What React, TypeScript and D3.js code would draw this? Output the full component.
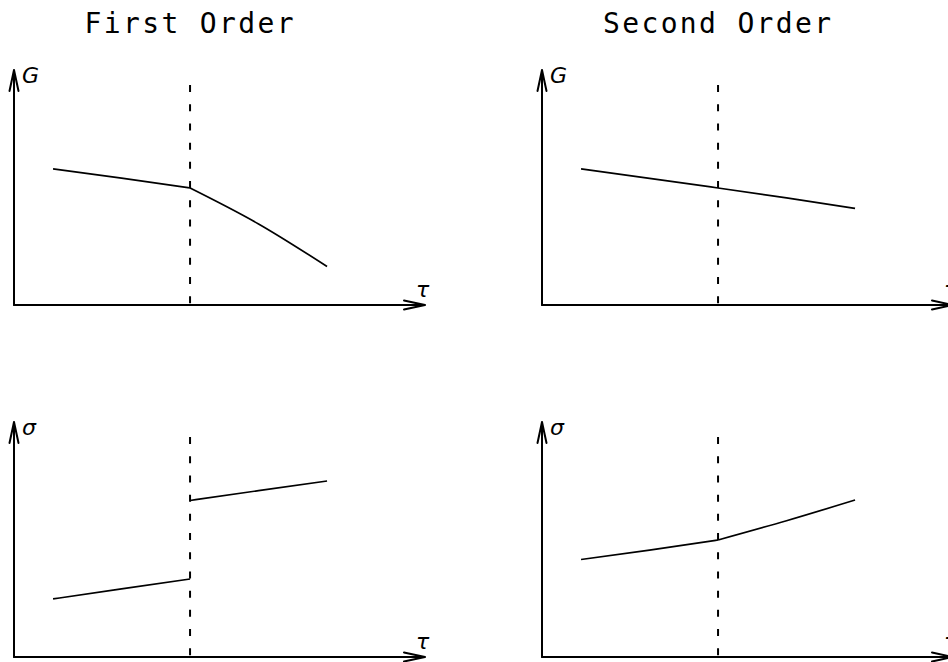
import * as d3 from 'd3';

// reduced temperature, 0 = transition point
const tauLeft = [-1, -0.5, 0];
const tauRight = [0, 0.5, 1];

// Gibbs energy G(tau)
const gFirstLeft = [0.579, 0.540, 0.498];
const gFirstRight = [0.498, 0.345, 0.164];
const gSecondLeft = [0.579, 0.539, 0.498];
const gSecondRight = [0.498, 0.456, 0.411];

// entropy sigma(tau)
const sFirstLeft = [0.247, 0.290, 0.332];
const sFirstRight = [0.666, 0.708, 0.749];
const sSecondLeft = [0.415, 0.455, 0.498];
const sSecondRight = [0.498, 0.580, 0.668];

const titles = ['First Order', 'Second Order'];
const yLabels = ['G', 'σ'];
const xLabel = 'τ';

const tauDomain = [-1.285, 1.715];
const dashTop = 0.936;

const W = 948;
const H = 662;
const axisW = 411;
const axisH = 235;
const originsX = [14, 542];
const originsY = [305, 657];

const panels = [
  { col: 0, row: 0, segs: [[tauLeft, gFirstLeft], [tauRight, gFirstRight]] },
  { col: 1, row: 0, segs: [[tauLeft, gSecondLeft], [tauRight, gSecondRight]] },
  { col: 0, row: 1, segs: [[tauLeft, sFirstLeft], [tauRight, sFirstRight]] },
  { col: 1, row: 1, segs: [[tauLeft, sSecondLeft], [tauRight, sSecondRight]] },
];

const Panel = ({ col, row, segs }) => {
  const ox = originsX[col];
  const oy = originsY[row];
  const x = d3.scaleLinear().domain(tauDomain).range([ox, ox + axisW]);
  const y = d3.scaleLinear().domain([0, 1]).range([oy, oy - axisH]);
  const line = d3.line<[number, number]>()
    .x(d => x(d[0]))
    .y(d => y(d[1]))
    .curve(d3.curveNatural);

  const x0 = x(tauDomain[0]);
  const x1 = x(tauDomain[1]);
  const yTip = y(1);
  const xc = x(0);

  return (
    <g>
      {row === 0 && (
        <text x={xc - 1} y={33} textAnchor="middle" fontFamily="DejaVu Sans Mono"
          fontSize={28} textLength={titles[col].length * 19} lengthAdjust="spacing">
          {titles[col]}
        </text>
      )}
      <g stroke="#000" strokeWidth={2} fill="none" strokeLinecap="round">
        <line x1={x0} y1={oy} x2={x0} y2={yTip} />
        <polyline points={`${x0 - 4.5},${yTip + 21} ${x0},${yTip} ${x0 + 4.5},${yTip + 21}`} />
        <line x1={x0} y1={oy} x2={x1} y2={oy} />
        <polyline points={`${x1 - 21},${oy - 4.5} ${x1},${oy} ${x1 - 21},${oy + 4.5}`} />
      </g>
      <line x1={xc} y1={y(dashTop)} x2={xc} y2={oy} stroke="#000" strokeWidth={2}
        strokeDasharray="7 12.2" />
      {segs.map(([t, v], i) => (
        <path key={i} d={line(t.map((tt, j) => [tt, v[j]]))} fill="none"
          stroke="#000" strokeWidth={1.7} />
      ))}
      <text x={x0 + 8} y={yTip + 13} fontFamily="DejaVu Sans" fontStyle="italic"
        fontSize={22}>{yLabels[row]}</text>
      <text x={x1 - 9} y={oy - 8} fontFamily="DejaVu Sans" fontStyle="italic"
        fontSize={22}>{xLabel}</text>
    </g>
  );
};

export default function App() {
  return (
    <svg width={W} height={H} viewBox={`0 0 ${W} ${H}`}
      style={{ position: 'absolute', left: 0, top: 0, background: '#fff' }}>
      {panels.map((p, i) => <Panel key={i} {...p} />)}
    </svg>
  );
}
